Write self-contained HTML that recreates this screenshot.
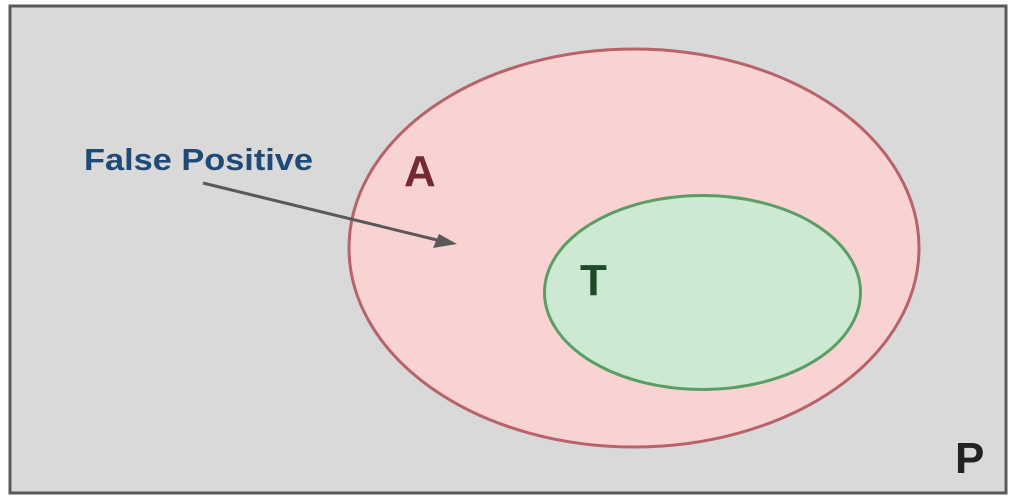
<!DOCTYPE html>
<html><head><style>body{margin:0;background:#fff}</style></head><body>
<svg width="1017" height="499" xmlns="http://www.w3.org/2000/svg" style="display:block">
<rect x="10" y="6" width="996" height="487" fill="#d9d9d9" stroke="#595959" stroke-width="3"/>
<ellipse cx="634" cy="248" rx="285" ry="199" fill="#f9d3d1" stroke="#b8626a" stroke-width="3"/>
<ellipse cx="702.5" cy="292.5" rx="158" ry="97" fill="#cde9d1" stroke="#5a9e66" stroke-width="3"/>
<line x1="203" y1="183" x2="437" y2="240" stroke="#595959" stroke-width="3"/>
<polygon points="457,244 433,248 439,234" fill="#595959"/>
<g font-family="Liberation Sans, sans-serif" font-weight="bold">
<text x="84" y="170" font-size="31" fill="#1f4a78" textLength="229" lengthAdjust="spacingAndGlyphs">False Positive</text>
<text x="404" y="186" font-size="44" fill="#722b33">A</text>
<text x="580" y="295" font-size="44" fill="#1e4a28">T</text>
<text x="955" y="473" font-size="44" fill="#222">P</text>
</g>
</svg>
</body></html>
